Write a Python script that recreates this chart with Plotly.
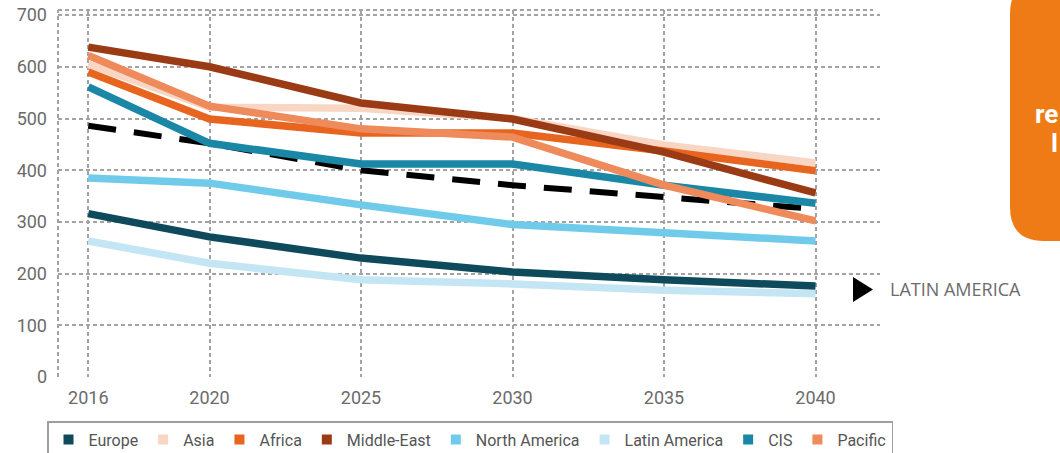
import plotly.graph_objects as go

# ---------------- data ----------------
years = [2016, 2020, 2025, 2030, 2035, 2040]
region_names = ["Europe", "Asia", "Africa", "Middle-East", "North America",
                "Latin America", "CIS", "Pacific"]
europe = [316, 271, 230, 203, 188, 176]
asia = [605, 522, 520, 500, 449, 414]
africa = [590, 499, 472, 472, 437, 399]
middle_east = [638, 600, 530, 499, 435, 356]
north_america = [385, 375, 333, 295, 279, 263]
latin_america = [263, 220, 188, 180, 168, 161]
cis = [561, 452, 412, 412, 371, 336]
pacific = [622, 524, 480, 464, 371, 302]
average = [486, 452, 400, 371, 348, 325]
y_ticks = [0, 100, 200, 300, 400, 500, 600, 700]
x_ticks = [2016, 2020, 2025, 2030, 2035, 2040]

# ---------------- styles ----------------
colors = {
    "Europe": "#0e4a5b",
    "Asia": "#f9d6c4",
    "Africa": "#e8651f",
    "Middle-East": "#9b3b15",
    "North America": "#70cbea",
    "Latin America": "#c4e6f4",
    "CIS": "#1a87a6",
    "Pacific": "#ef8a5b",
}
series = {
    "Europe": europe, "Asia": asia, "Africa": africa, "Middle-East": middle_east,
    "North America": north_america, "Latin America": latin_america,
    "CIS": cis, "Pacific": pacific,
}
draw_order = ["Latin America", "Europe", "North America", "CIS", "Asia",
              "Africa", "Middle-East", "Pacific"]

W, H = 1060, 453
ML, MR, MT, MB = 58, 180, 10, 76
PW, PH = W - ML - MR, H - MT - MB


def px(x):
    return (x - ML) / PW


def py(y):
    return (H - MB - y) / PH


fig = go.Figure()

fig.add_trace(go.Scatter(
    x=years, y=average, mode="lines", showlegend=False,
    line=dict(color="black", width=6, dash="28px,18px"), hoverinfo="skip"))

for name in draw_order:
    fig.add_trace(go.Scatter(
        x=years, y=series[name], mode="lines", name=name, showlegend=False,
        line=dict(color=colors[name], width=7.5)))

for name in region_names:
    fig.add_trace(go.Scatter(
        x=[None], y=[None], mode="markers", name=name,
        marker=dict(symbol="square", size=10, color=colors[name])))

grid = "#a3a3a3"
fig.update_xaxes(
    range=[2015, 2015 + PW / 30.3], tickvals=x_ticks, showgrid=True,
    gridcolor=grid, griddash="4px,3px", gridwidth=2, zeroline=False,
    showline=False, ticks="", ticklabelstandoff=8,
    tickfont=dict(family="Roboto", size=18, color="#6b6b6b"))
fig.update_yaxes(
    range=[0, (H - MB - MT) / 0.517], tickvals=y_ticks, showgrid=True,
    gridcolor=grid, griddash="4px,3px", gridwidth=2, zeroline=False,
    showline=False, ticks="", ticklabelstandoff=10,
    tickfont=dict(family="Roboto", size=18, color="#6b6b6b"))

shapes = [
    # frame: left and top dotted lines
    dict(type="line", xref="paper", yref="paper", x0=0, x1=0, y0=0, y1=1,
         line=dict(color=grid, width=2, dash="4px,3px"), layer="below"),
    dict(type="line", xref="paper", yref="paper", x0=0, x1=px(873), y0=1, y1=1,
         line=dict(color=grid, width=2, dash="4px,3px"), layer="below"),
    # pointer triangle
    dict(type="path", xref="paper", yref="paper",
         path=f"M {px(853)},{py(277)} L {px(873)},{py(289.5)} L {px(853)},{py(302)} Z",
         fillcolor="black", line=dict(width=0)),
]
# orange rounded box at the right edge
bx0, bx1, by0, by1, r = 1010, 1120, -20, 241, 34
shapes.append(dict(
    type="path", xref="paper", yref="paper", fillcolor="#ef7b17",
    line=dict(width=0),
    path=(f"M {px(bx0)},{py(by0 + r)} "
          f"L {px(bx0)},{py(by1 - r)} "
          f"Q {px(bx0)},{py(by1)} {px(bx0 + r)},{py(by1)} "
          f"L {px(bx1)},{py(by1)} L {px(bx1)},{py(by0)} "
          f"L {px(bx0 + r)},{py(by0)} "
          f"Q {px(bx0)},{py(by0)} {px(bx0)},{py(by0 + r)} Z")))

annotations = [
    dict(xref="paper", yref="paper", x=px(888), y=py(289), xanchor="left",
         yanchor="middle", text="LATIN AMERICA", showarrow=False,
         font=dict(family="Open Sans", size=18, color="#6b6b6b")),
    # visible fragments of the cropped text in the orange box
    dict(xref="paper", yref="paper", x=px(1033), y=py(114), xanchor="left",
         yanchor="middle", text="<b>re</b>", showarrow=False,
         font=dict(family="Roboto", size=26, color="white")),
    dict(xref="paper", yref="paper", x=px(1049), y=py(143), xanchor="left",
         yanchor="middle", text="<b>l</b>", showarrow=False,
         font=dict(family="Roboto", size=26, color="white")),
]

fig.update_layout(
    width=W, height=H, margin=dict(l=ML, r=MR, t=MT, b=MB, autoexpand=False),
    paper_bgcolor="white", plot_bgcolor="white",
    shapes=shapes, annotations=annotations,
    legend=dict(orientation="h", x=px(47), y=py(421), xanchor="left",
                yanchor="top", bordercolor="#9e9e9e", borderwidth=1.5,
                bgcolor="white", itemwidth=30, tracegroupgap=0,
                font=dict(family="Roboto", size=16, color="#555555")),
)

fig.write_html("out.html")
